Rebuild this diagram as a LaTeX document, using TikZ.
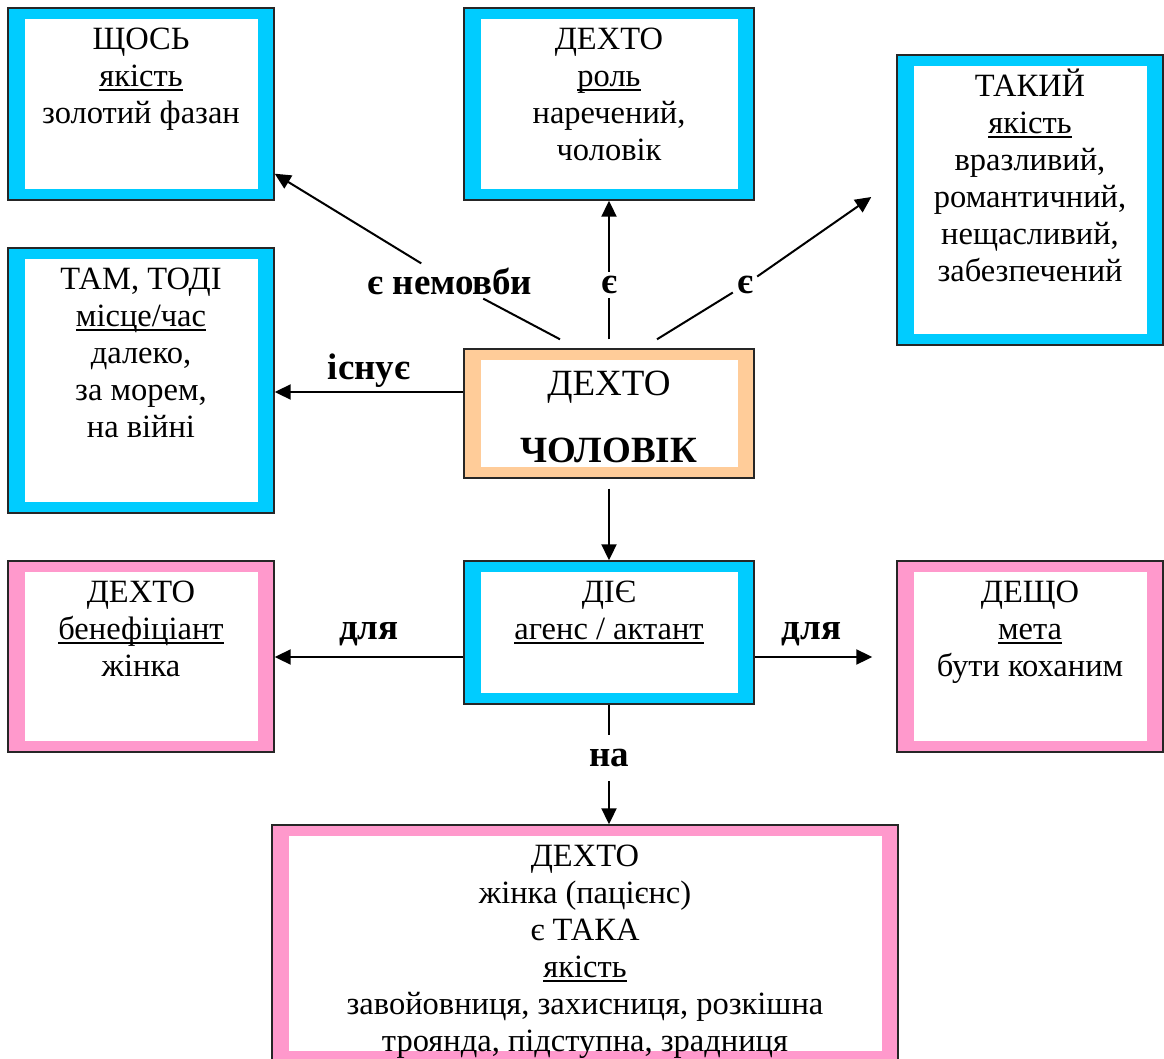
\documentclass[tikz,border=0pt]{standalone}
\usepackage{fontspec}
\setmainfont{Liberation Serif}
\usetikzlibrary{arrows.meta,positioning,calc}
\definecolor{rolecyan}{HTML}{00CCFF}
\definecolor{manpeach}{HTML}{FFCC99}
\definecolor{womanpink}{HTML}{FF99CC}
\newcommand{\hstrut}{\rule{0pt}{30pt}}
\newcommand{\uln}[1]{\setbox0=\hbox{#1}\rlap{\rule[-0.15em]{\wd0}{0.06em}}\box0}
\tikzset{
    frame/.style={draw=black!85, line width=1.4pt, fill=#1, inner sep=0pt,
        path picture={\fill[white] ([shift={(16.5,11)}]path picture bounding box.north west)
            rectangle ([shift={(-16.5,-11)}]path picture bounding box.south east);}},
    txt/.style={align=center, inner sep=0pt, font=\fontsize{32.5}{37}\selectfont},
    lbl/.style={font=\fontsize{37}{40}\selectfont\bfseries, inner sep=4pt},
    arr/.style={-{Triangle[length=16pt,width=15pt]}, line width=2pt},
}

\begin{document}
\begin{tikzpicture}[x=1pt, y=-1pt]
    \useasboundingbox (0,0) rectangle (1164,1059);

    % frames
    \node[frame=rolecyan, minimum width=266pt, minimum height=192pt] (what) at (141,104) {};
    \node[frame=rolecyan, minimum width=290pt, minimum height=192pt] (role) at (609,104) {};
    \node[frame=rolecyan, minimum width=266pt, minimum height=290pt] (such) at (1030,200) {};
    \node[frame=rolecyan, minimum width=266pt, minimum height=265pt] (where) at (141,380.5) {};
    \node[frame=manpeach, minimum width=290pt, minimum height=129pt] (man) at (609,413.5) {};
    \node[frame=rolecyan, minimum width=290pt, minimum height=143pt] (acts) at (609,632.5) {};
    \node[frame=womanpink, minimum width=266pt, minimum height=191pt] (benef) at (141,656.5) {};
    \node[frame=womanpink, minimum width=266pt, minimum height=191pt] (goal) at (1030,656.5) {};
    \node[frame=womanpink, minimum width=626pt, minimum height=237pt] (patient) at (585,943.5) {};

    % texts
    \node[txt, below=12pt of what.north] (what-txt) {\hstrut ЩОСЬ\\\uln{якість}\\золотий фазан};
    \node[txt, below=12pt of role.north] (role-txt) {\hstrut ДЕХТО\\\uln{роль}\\наречений,\\чоловік};
    \node[txt, below=12pt of such.north] (such-txt) {\hstrut ТАКИЙ\\\uln{якість}\\вразливий,\\романтичний,\\нещасливий,\\забезпечений};
    \node[txt, below=12pt of where.north] (where-txt) {\hstrut ТАМ, ТОДІ\\\uln{місце/час}\\далеко,\\за морем,\\на війні};
    \node[txt, below=17pt of man.north, font=\fontsize{37}{67}\selectfont] (man-txt) {\hstrut ДЕХТО\\\textbf{ЧОЛОВІК}};
    \node[txt, below=12pt of acts.north] (acts-txt) {\hstrut ДІЄ\\\uln{агенс / актант}};
    \node[txt, below=12pt of benef.north] (benef-txt) {\hstrut ДЕХТО\\\uln{бенефіціант}\\жінка};
    \node[txt, below=12pt of goal.north] (goal-txt) {\hstrut ДЕЩО\\\uln{мета}\\бути коханим};
    \node[txt, below=12pt of patient.north] (patient-txt) {\hstrut ДЕХТО\\жінка (пацієнс)\\є ТАКА\\\uln{якість}\\завойовниця, захисниця, розкішна\\троянда, підступна, зрадниця};

    % labels that cut the lines
    \node[lbl, fill=white] (not-lbl) at (450,281) {є немовби};
    \node[lbl, fill=white] (role-lbl) at (609,285) {є};
    \node[lbl, fill=white] (such-lbl) at (745,285) {є};
    \node[lbl, fill=white, inner ysep=14pt] (on-lbl) at (609,758) {на};

    % connectors
    \coordinate (man-top) at ([yshift=9pt]man.north);
    \draw[arr] ([xshift=-49pt]man-top) -- (not-lbl) -- ([yshift=27pt]what.south east);
    \draw[arr] (man-top) -- (role-lbl) -- (role);
    \draw[arr] ([xshift=48pt]man-top) -- (such-lbl) -- ([xshift=-25pt,yshift=3pt]such.west);

    \coordinate (exists-start) at ([yshift=21.5pt]man.west);
    \draw[arr] (exists-start) -- (exists-start -| where.east)
        node[lbl, midway, above] (exists-lbl) {існує};

    \draw[arr] ([yshift=-10pt]man.south) -- (acts);

    \coordinate (acts-l) at ([yshift=-24.5pt]acts.west);
    \coordinate (acts-r) at ([yshift=-24.5pt]acts.east);
    \draw[arr] (acts-l) -- (acts-l -| benef.east)
        node[lbl, midway, above=6pt] (for-lbl) {для};
    \draw[arr, shorten >=24pt] (acts-r) -- (acts-r -| goal.west)
        node[lbl, pos=.4, above=6pt] (aim-lbl) {для};

    \draw[arr] (acts) -- (on-lbl) -- (acts.south |- patient.north);
\end{tikzpicture}
\end{document}
